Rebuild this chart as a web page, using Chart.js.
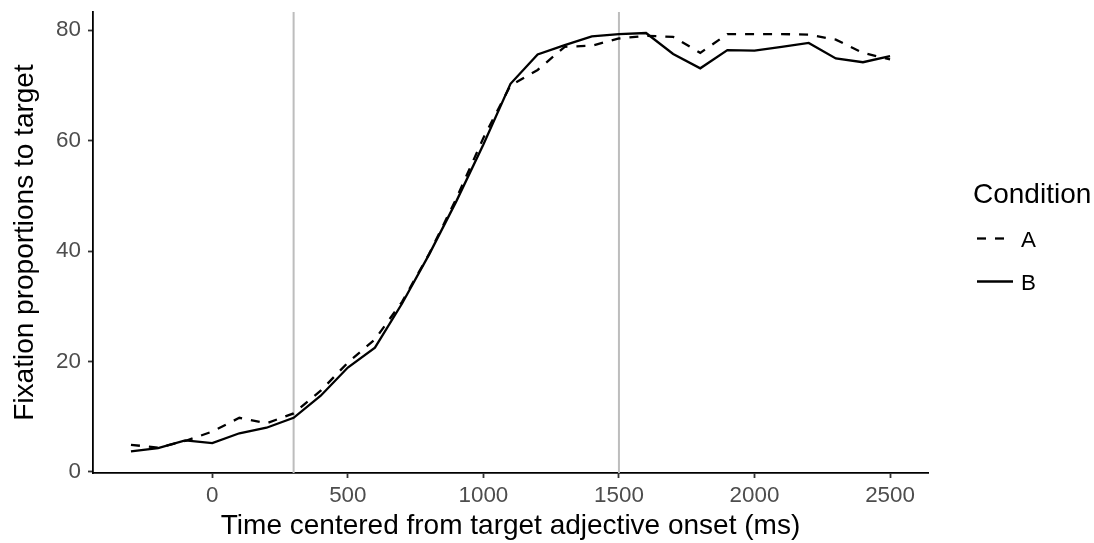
<!DOCTYPE html>
<html>
<head>
<meta charset="utf-8">
<script src="https://cdn.jsdelivr.net/npm/chart.js@4.4.1/dist/chart.umd.min.js"></script>
<style>
  html, body { margin: 0; padding: 0; background: #fff; overflow: hidden; }
  #wrap { width: 1094px; height: 543px; }
</style>
</head>
<body>
<div id="wrap"><canvas id="fixChart"></canvas></div>
<script>
// Time bins, ms from target adjective onset
const timeBins = [-300, -200, -100, 0, 100, 200, 300, 400, 500, 600, 700, 800, 900, 1000,
  1100, 1200, 1300, 1400, 1500, 1600, 1700, 1800, 1900, 2000, 2100, 2200, 2300, 2400, 2500];

// Fixation proportions to target (%), per condition
const condA = [4.9, 4.4, 5.6, 7.3, 9.8, 8.8, 10.6, 14.7, 19.8, 24.0, 30.8, 39.5, 49.5, 60.5,
  70.0, 72.8, 77.0, 77.2, 78.5, 79.0, 78.8, 75.9, 79.3, 79.3, 79.3, 79.2, 78.3, 75.9, 74.7];
const condB = [3.7, 4.3, 5.7, 5.2, 7.0, 8.0, 9.8, 13.8, 18.9, 22.5, 30.5, 39.4, 49.0, 59.3,
  70.3, 75.6, 77.3, 78.9, 79.3, 79.5, 75.7, 73.1, 76.4, 76.3, 77.0, 77.7, 74.9, 74.2, 75.3];

const seriesNames = ['A', 'B'];
const legendTitle = 'Condition';

const xTicks = [0, 500, 1000, 1500, 2000, 2500];
const yTicks = [0, 20, 40, 60, 80];

// reference lines (ms)
const markerLines = [300, 1500];

const fontFamily = '"Liberation Sans", Arial, Helvetica, sans-serif';
const titleSize = 28;
const tickSize = 22.4;

function toPoints(values) {
    return timeBins.map((t, i) => ({ x: t, y: values[i] }));
}

// gray vertical lines behind the curves
const markerLinePlugin = {
    id: 'markerLines',
    beforeDatasetsDraw(chart) {
        const { ctx, chartArea, scales } = chart;
        ctx.save();
        ctx.strokeStyle = '#bdbdbd';
        ctx.lineWidth = 2;
        markerLines.forEach(t => {
            const px = scales.x.getPixelForValue(t);
            ctx.beginPath();
            ctx.moveTo(px, chartArea.top);
            ctx.lineTo(px, chartArea.bottom);
            ctx.stroke();
        });
        ctx.restore();
    }
};

// ggplot-style legend to the right of the panel
const conditionLegend = {
    id: 'conditionLegend',
    afterDraw(chart) {
        const { ctx, chartArea } = chart;
        const x0 = chartArea.right + 45;
        const mid = (chartArea.top + chartArea.bottom) / 2;
        ctx.save();
        ctx.fillStyle = '#000';
        ctx.textAlign = 'left';
        ctx.textBaseline = 'middle';
        ctx.font = `${titleSize}px ${fontFamily}`;
        ctx.fillText(legendTitle, x0, mid - 47);

        chart.data.datasets.forEach((ds, i) => {
            const y = mid - 4 + i * 43;
            ctx.strokeStyle = ds.borderColor;
            ctx.lineWidth = ds.borderWidth;
            ctx.setLineDash(ds.borderDash || []);
            ctx.beginPath();
            ctx.moveTo(x0 + 4, y);
            ctx.lineTo(x0 + 40, y);
            ctx.stroke();
            ctx.setLineDash([]);
            ctx.font = `${tickSize}px ${fontFamily}`;
            ctx.fillText(ds.label, x0 + 48, y + 2);
        });
        ctx.restore();
    }
};

const axisCommon = {
    border: { display: true, color: '#000', width: 1.8 },
    grid: {
        display: true,
        drawOnChartArea: false,
        drawTicks: true,
        tickLength: 5,
        tickColor: '#333',
        tickWidth: 1.8
    }
};

new Chart(document.getElementById('fixChart'), {
    type: 'line',
    data: {
        datasets: [
            {
                label: seriesNames[0],
                data: toPoints(condA),
                borderColor: '#000',
                borderWidth: 2.3,
                borderDash: [9, 9],
                pointRadius: 0,
                tension: 0,
                fill: false
            },
            {
                label: seriesNames[1],
                data: toPoints(condB),
                borderColor: '#000',
                borderWidth: 2.3,
                pointRadius: 0,
                tension: 0,
                fill: false
            }
        ]
    },
    options: {
        responsive: true,
        maintainAspectRatio: false,
        animation: false,
        devicePixelRatio: 1,
        layout: { padding: { top: 12, right: 166, bottom: 0, left: 0 } },
        plugins: {
            legend: { display: false },
            tooltip: { enabled: false }
        },
        scales: {
            x: {
                ...axisCommon,
                type: 'linear',
                min: -440,
                max: 2640,
                afterBuildTicks: scale => { scale.ticks = xTicks.map(v => ({ value: v })); },
                afterFit: scale => {
                    scale.height = 70;
                    scale.paddingLeft = 0;
                    scale.paddingRight = 0;
                },
                ticks: {
                    padding: 4,
                    color: '#4d4d4d',
                    maxRotation: 0,
                    callback: v => String(v),
                    font: { family: fontFamily, size: tickSize }
                },
                title: {
                    display: true,
                    text: 'Time centered from target adjective onset (ms)',
                    color: '#000',
                    font: { family: fontFamily, size: titleSize },
                    padding: { top: 0, bottom: 0 }
                }
            },
            y: {
                ...axisCommon,
                min: -0.2,
                max: 83.3,
                afterBuildTicks: scale => { scale.ticks = yTicks.map(v => ({ value: v })); },
                afterFit: scale => {
                    scale.width = 93;
                    scale.paddingTop = 0;
                    scale.paddingBottom = 0;
                },
                ticks: {
                    padding: 7,
                    color: '#4d4d4d',
                    callback: v => String(v),
                    font: { family: fontFamily, size: tickSize }
                },
                title: {
                    display: true,
                    text: 'Fixation proportions to target',
                    color: '#000',
                    font: { family: fontFamily, size: titleSize },
                    padding: { top: 8, bottom: 0 }
                }
            }
        }
    },
    plugins: [markerLinePlugin, conditionLegend]
});
</script>
</body>
</html>
